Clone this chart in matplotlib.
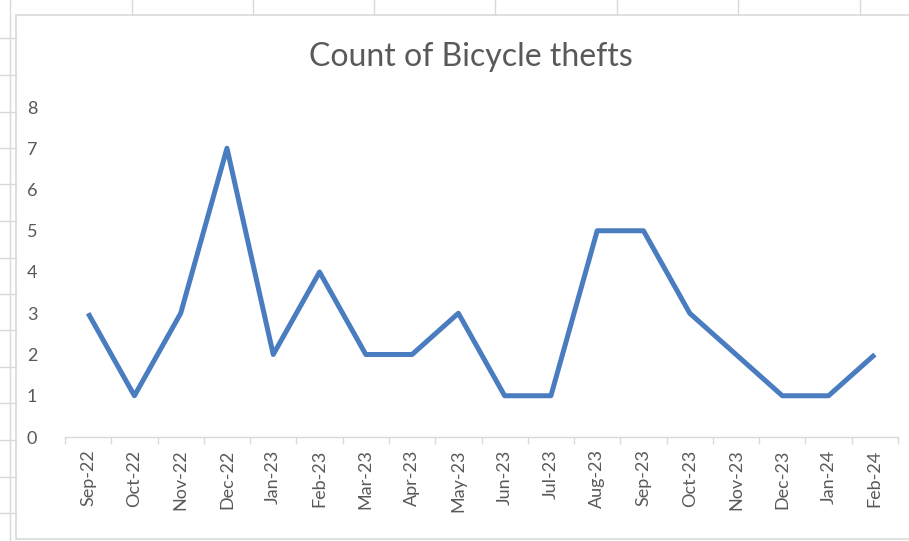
import matplotlib
matplotlib.use("Agg")
import matplotlib.pyplot as plt
from matplotlib.patches import Rectangle

months = ["Sep-22", "Oct-22", "Nov-22", "Dec-22", "Jan-23", "Feb-23", "Mar-23",
          "Apr-23", "May-23", "Jun-23", "Jul-23", "Aug-23", "Sep-23", "Oct-23",
          "Nov-23", "Dec-23", "Jan-24", "Feb-24"]
thefts = [3, 1, 3, 7, 2, 4, 2, 2, 3, 1, 1, 5, 5, 3, 2, 1, 1, 2]
y_ticks = [0, 1, 2, 3, 4, 5, 6, 7, 8]

plt.rcParams["font.family"] = ["Lato", "DejaVu Sans"]

W, H = 909, 541
fig = plt.figure(figsize=(W / 100, H / 100), dpi=100)

# spreadsheet cell grid behind the chart, in pixel coords
bg = fig.add_axes([0, 0, 1, 1], zorder=-1)
bg.set_xlim(0, W)
bg.set_ylim(H, 0)
bg.axis("off")
grid_c = "#d9d9d9"
for gx in [132, 253, 374, 495, 617, 738, 860]:
    bg.plot([gx, gx], [0, 15], color=grid_c, lw=1)
for gy in [38, 75, 112, 148, 184, 221, 258, 294, 330, 367, 403, 440, 477, 513]:
    bg.plot([0, 16], [gy, gy], color=grid_c, lw=1)
bg.plot([10, 10], [0, H], color=grid_c, lw=1)
bg.add_patch(Rectangle((16, 15), W, 539 - 15, facecolor="white", edgecolor=grid_c, lw=1.2))

ax = fig.add_axes([65 / W, 1 - 437 / H, (898 - 65) / W, (437 - 107) / H])
x = list(range(len(months)))
ax.plot(x, thefts, color="#4a7cc0", lw=3.6, solid_joinstyle="round",
        solid_capstyle="butt", clip_on=False)

ax.set_xlim(-0.5, len(months) - 0.5)
ax.set_ylim(0, 8)
ax.set_yticks(y_ticks)
ax.set_xticks(x)
ax.set_xticklabels(months, rotation=90)
ax.set_xticks([i - 0.5 for i in range(len(months) + 1)], minor=True)
ax.tick_params(axis="x", which="major", length=0, pad=9, labelsize=13, colors="#595959")
ax.tick_params(axis="x", which="minor", length=5, color="#d9d9d9", width=1)
ax.tick_params(axis="y", length=0, pad=20, labelsize=13, colors="#595959")
for s in ["top", "right", "left"]:
    ax.spines[s].set_visible(False)
ax.spines["bottom"].set_color("#d9d9d9")
ax.spines["bottom"].set_linewidth(1)
ax.patch.set_alpha(0)

fig.text(471 / W, 1 - 57 / H, "Count of Bicycle thefts", ha="center", va="center",
         fontsize=23, color="#595959")

fig.savefig("out.png", dpi=100)
